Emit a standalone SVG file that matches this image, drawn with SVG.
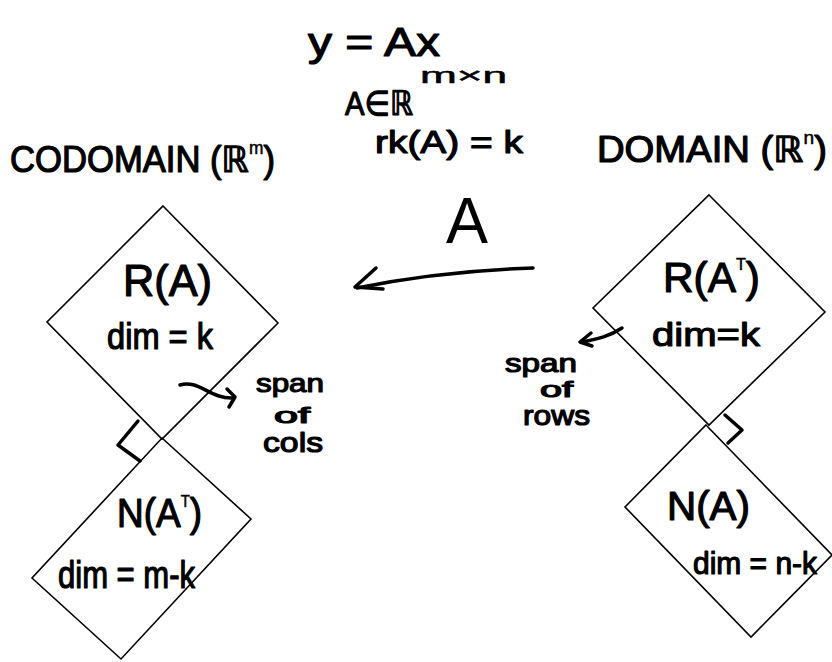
<svg xmlns="http://www.w3.org/2000/svg" width="832" height="662" viewBox="0 0 832 662">
<style>
.bg{fill:#fff}
.shape{fill:none;stroke:#000;stroke-width:1.6;stroke-linejoin:miter}
.ink{fill:none;stroke:#000;stroke-width:3.5;stroke-linecap:round;stroke-linejoin:round}
.t{font-family:"Liberation Sans","DejaVu Sans",sans-serif;fill:#000;stroke:#000;stroke-width:1.2;stroke-linejoin:round}
.sup{stroke-width:0.5}
.thin{font-family:"Liberation Sans","DejaVu Sans",sans-serif;fill:#000}
</style>
<rect class="bg" x="0" y="0" width="832" height="662"/>

<g id="header">
  <text class="t" x="308" y="56" font-size="40" textLength="132" lengthAdjust="spacingAndGlyphs">y = Ax</text>
  <text class="t" x="345" y="115" font-size="34" textLength="68" lengthAdjust="spacingAndGlyphs">A∈ℝ</text>
  <text class="t sup" x="420" y="83" font-size="22" textLength="87" lengthAdjust="spacingAndGlyphs">m×n</text>
  <text class="t" x="375" y="153" font-size="32" textLength="148" lengthAdjust="spacingAndGlyphs">rk(A) = k</text>
</g>

<g id="codomain-label">
  <text class="t" x="10" y="172" font-size="36" textLength="265" lengthAdjust="spacingAndGlyphs">CODOMAIN (ℝ<tspan class="sup" font-size="18" dy="-18">m</tspan><tspan dy="18">)</tspan></text>
</g>

<g id="domain-label">
  <text class="t" x="597" y="162" font-size="36" textLength="230" lengthAdjust="spacingAndGlyphs">DOMAIN (ℝ<tspan class="sup" font-size="18" dy="-18">n</tspan><tspan dy="18">)</tspan></text>
</g>

<g id="node-range-A">
  <polygon class="shape" points="163,206 278,323 162,439 47,322"/>
  <text class="t" x="123" y="296" font-size="44" textLength="89" lengthAdjust="spacingAndGlyphs">R(A)</text>
  <text class="t" x="107" y="349" font-size="36" textLength="106" lengthAdjust="spacingAndGlyphs">dim = k</text>
</g>

<g id="node-null-AT">
  <polygon class="shape" points="162,438 251,519 121,659 32,578"/>
  <text class="t" x="117" y="527" font-size="40" textLength="85" lengthAdjust="spacingAndGlyphs">N(A<tspan class="sup" font-size="16" dy="-20">T</tspan><tspan dy="20">)</tspan></text>
  <text class="t" x="58" y="588" font-size="38" textLength="137" lengthAdjust="spacingAndGlyphs">dim = m-k</text>
</g>

<g id="node-range-AT">
  <polygon class="shape" points="709,195 825,312 709,425 593,308"/>
  <text class="t" x="663" y="292" font-size="42" textLength="97" lengthAdjust="spacingAndGlyphs">R(A<tspan class="sup" font-size="16" dy="-22">T</tspan><tspan dy="22">)</tspan></text>
  <text class="t" x="652" y="346" font-size="34" textLength="108" lengthAdjust="spacingAndGlyphs">dim=k</text>
</g>

<g id="node-null-A">
  <polygon class="shape" points="706,425 832,555 751,637 625,507"/>
  <text class="t" x="667" y="520" font-size="40" textLength="83" lengthAdjust="spacingAndGlyphs">N(A)</text>
  <text class="t" x="693" y="574" font-size="32" textLength="124" lengthAdjust="spacingAndGlyphs">dim = n-k</text>
</g>

<g id="span-cols-label">
  <text class="t" x="256" y="392" font-size="26" textLength="68" lengthAdjust="spacingAndGlyphs">span</text>
  <text class="t" x="274" y="423" font-size="22" textLength="36" lengthAdjust="spacingAndGlyphs">of</text>
  <text class="t" x="263" y="452" font-size="28" textLength="60" lengthAdjust="spacingAndGlyphs">cols</text>
</g>

<g id="span-rows-label">
  <text class="t" x="505" y="372" font-size="26" textLength="72" lengthAdjust="spacingAndGlyphs">span</text>
  <text class="t" x="540" y="397" font-size="22" textLength="33" lengthAdjust="spacingAndGlyphs">of</text>
  <text class="t" x="523" y="425" font-size="28" textLength="67" lengthAdjust="spacingAndGlyphs">rows</text>
</g>

<g id="connectors">
  <text class="thin" x="446" y="243" font-size="64" textLength="42" lengthAdjust="spacingAndGlyphs">A</text>
  <path class="ink" d="M533,268 Q440,271 357,288"/>
  <path class="ink" d="M376,268 L355,287 L383,289"/>
  <path class="ink" d="M180,385 C198,379 210,399 233,398"/>
  <path class="ink" d="M227,389 L235,397 L229,407"/>
  <path class="ink" d="M622,328 C610,336 598,339 582,342"/>
  <path class="ink" d="M591,333 L580,342 L592,346"/>
  <path class="ink" d="M138,421 L118,445 L140,461"/>
  <path class="ink" d="M725,415 L742,430 L728,443"/>
</g>
</svg>
